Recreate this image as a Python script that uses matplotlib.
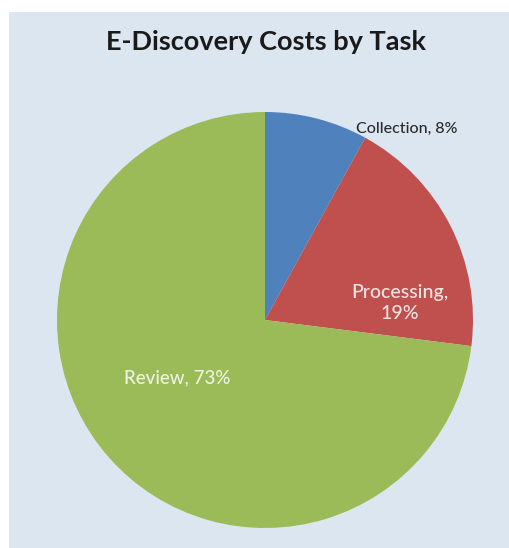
import matplotlib
matplotlib.use("Agg")
import matplotlib.pyplot as plt

# data
tasks = ["Collection", "Processing", "Review"]
shares = [8, 19, 73]
colors = ["#4f81bd", "#c0504d", "#9bbb59"]

W, H = 509, 548
fig = plt.figure(figsize=(W / 100, H / 100), dpi=100)
fig.patch.set_facecolor("white")

# light blue chart frame
bg = fig.add_axes([9 / W, 0, 1 - 9 / W, 1 - 12 / H])
bg.set_facecolor("#dce6f1")
bg.set_xticks([])
bg.set_yticks([])
for s in bg.spines.values():
    s.set_visible(False)

# pie area: center ~(265, 320) px, radius ~208 px
cx, cy, r = 265, 320, 208
ax = fig.add_axes([(cx - r) / W, (H - cy - r) / H, 2 * r / W, 2 * r / H])
ax.set_facecolor("none")
wedges, _ = ax.pie(shares, colors=colors, startangle=90, counterclock=False,
                   radius=1, wedgeprops=dict(linewidth=0))
ax.set_xlim(-1, 1)
ax.set_ylim(-1, 1)
ax.set_aspect("equal")
ax.axis("off")

font = "Lato"
fig.text(266 / W, 1 - 42 / H, "E-Discovery Costs by Task", ha="center", va="center",
         fontsize=19.5, fontweight="bold", family=font, color="#1a1a1a")

# labels placed in data coords of the pie axes
ax.text(0.68, 0.92, f"{tasks[0]}, {shares[0]}%", ha="center", va="center",
        fontsize=11.5, family=font, fontweight="medium", color="#2a2a2a")
ax.text(0.65, 0.08, f"{tasks[1]},\n{shares[1]}%", ha="center", va="center",
        fontsize=14, family=font, fontweight="medium", color="#f2e4e2",
        linespacing=1.3)
ax.text(-0.42, -0.28, f"{tasks[2]}, {shares[2]}%", ha="center", va="center",
        fontsize=13.5, family=font, fontweight="medium", color="#eef3e2")

fig.savefig("out.png", dpi=100, facecolor="white")
